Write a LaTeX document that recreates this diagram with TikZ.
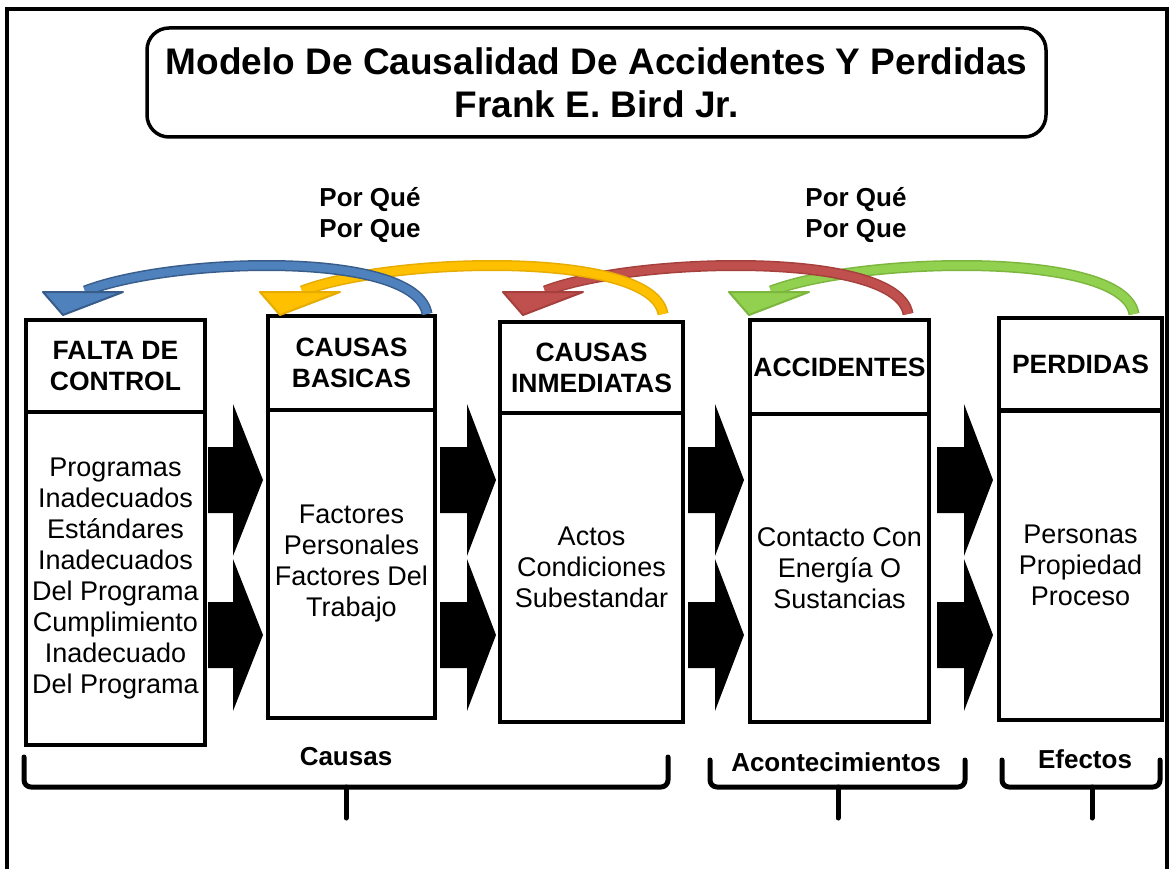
\documentclass[tikz,border=0pt]{standalone}
\usepackage{fontspec}
\setmainfont{Liberation Sans}
\definecolor{cblue}{HTML}{4F81BD}
\definecolor{dblue}{HTML}{385D8A}
\definecolor{cyel}{HTML}{FFC000}
\definecolor{dyel}{HTML}{E6AC00}
\definecolor{cred}{HTML}{C0504D}
\definecolor{dred}{HTML}{A5403D}
\definecolor{cgreen}{HTML}{92D050}
\definecolor{dgreen}{HTML}{7CB63E}
\newcommand\bendarrow[4]{%
  \draw[line width=11pt,#4,line cap=butt] ({#1+42},291) .. controls ({#1+130},257) and ({#2-10},250) .. (#2,314);
  \draw[line width=8pt,#3,line cap=butt] ({#1+42},291) .. controls ({#1+130},257) and ({#2-10},250) .. (#2,314);
  \filldraw[fill=#3,draw=#4,line width=2pt,line join=round] (#1,292) -- ({#1+80},292) -- ({#1+20},315) -- cycle;
}
\newcommand\blockarrow[4]{% x0 x1 x2 yc
  \fill[black] (#1,{#4-33}) -- (#2,{#4-33}) -- (#2,{#4-76}) -- (#3,#4) -- (#2,{#4+76}) -- (#2,{#4+33}) -- (#1,{#4+33}) -- cycle;
}
\tikzset{
  hdr/.style={draw,line width=4pt,inner sep=2pt,align=center,font=\fontsize{26.5}{31}\selectfont\bfseries},
  bdy/.style={draw,line width=4pt,inner sep=2pt,align=center,font=\fontsize{27}{31}\selectfont},
  lbl/.style={align=center,font=\fontsize{26}{31}\selectfont\bfseries},
  brace/.style={line width=5pt,line cap=round,line join=round,rounded corners=7pt}
}
\begin{document}
\begin{tikzpicture}[x=1pt,y=-1pt]
\useasboundingbox (0,0) rectangle (1170,869);
\fill[white] (0,0) rectangle (1170,869);
% frame
\draw[line width=4pt] (7,869) -- (7,9) -- (1167,9) -- (1167,869);
% title
\node[draw,line width=3.5pt,rounded corners=22pt,minimum width=899pt,minimum height=109pt,align=center,
  font=\fontsize{37}{43}\selectfont\bfseries] (title) at (596.5,82.5)
  {Modelo De Causalidad De Accidentes Y Perdidas\\Frank E. Bird Jr.};
% why labels
\node[lbl] (why1) at (370,215) {Por Qué\\Por Que};
\node[lbl] (why2) at (856,215) {Por Qué\\Por Que};
% boxes
\node[hdr,minimum width=179pt,minimum height=92pt] (h1) at (115.5,366) {FALTA DE\\CONTROL};
\node[bdy,minimum width=179pt,minimum height=333pt] (b1) at (115.5,578.5)
  {Programas\\Inadecuados\\Estándares\\Inadecuados\\Del Programa\\Cumplimiento\\Inadecuado\\Del Programa};
\node[hdr,minimum width=167pt,minimum height=94pt] (h2) at (351.5,363) {CAUSAS\\BASICAS};
\node[bdy,minimum width=167pt,minimum height=308pt] (b2) at (351.5,564)
  {Factores\\Personales\\Factores Del\\Trabajo};
\node[hdr,minimum width=183pt,minimum height=91pt] (h3) at (591.5,367.5) {CAUSAS\\INMEDIATAS};
\node[bdy,minimum width=183pt,minimum height=309pt] (b3) at (591.5,567.5)
  {Actos\\Condiciones\\Subestandar};
\node[hdr,minimum width=179pt,minimum height=94pt] (h4) at (839.5,367) {ACCIDENTES};
\node[bdy,minimum width=179pt,minimum height=308pt] (b4) at (839.5,568)
  {Contacto Con\\Energía O\\Sustancias};
\node[hdr,minimum width=163pt,minimum height=93pt] (h5) at (1080.5,364.5) {PERDIDAS};
\node[bdy,minimum width=163pt,minimum height=310pt] (b5) at (1080.5,565)
  {Personas\\Propiedad\\Proceso};
% block arrows
\blockarrow{208}{233}{263}{480}
\blockarrow{208}{233}{263}{635}
\blockarrow{440}{467}{496}{480}
\blockarrow{440}{467}{496}{635}
\blockarrow{688}{715}{744}{480}
\blockarrow{688}{715}{744}{635}
\blockarrow{937}{964}{993}{480}
\blockarrow{937}{964}{993}{635}
% curved arrows
\bendarrow{729}{1134}{cgreen}{dgreen}
\bendarrow{503}{908}{cred}{dred}
\bendarrow{260}{663}{cyel}{dyel}
\bendarrow{43}{427}{cblue}{dblue}
% braces
\draw[brace] (24,757) -- (24,787) -- (668,787) -- (668,757);
\draw[brace] (346,787) -- (346,818);
\draw[brace] (710,760) -- (710,787) -- (965,787) -- (965,760);
\draw[brace] (838,787) -- (838,818);
\draw[brace] (1002,760) -- (1002,787) -- (1160,787) -- (1160,760);
\draw[brace] (1092,787) -- (1092,818);
\node[lbl] (causas) at (346,757) {Causas};
\node[lbl] (acont) at (836,762) {Acontecimientos};
\node[lbl] (efectos) at (1085,759) {Efectos};
\end{tikzpicture}
\end{document}
